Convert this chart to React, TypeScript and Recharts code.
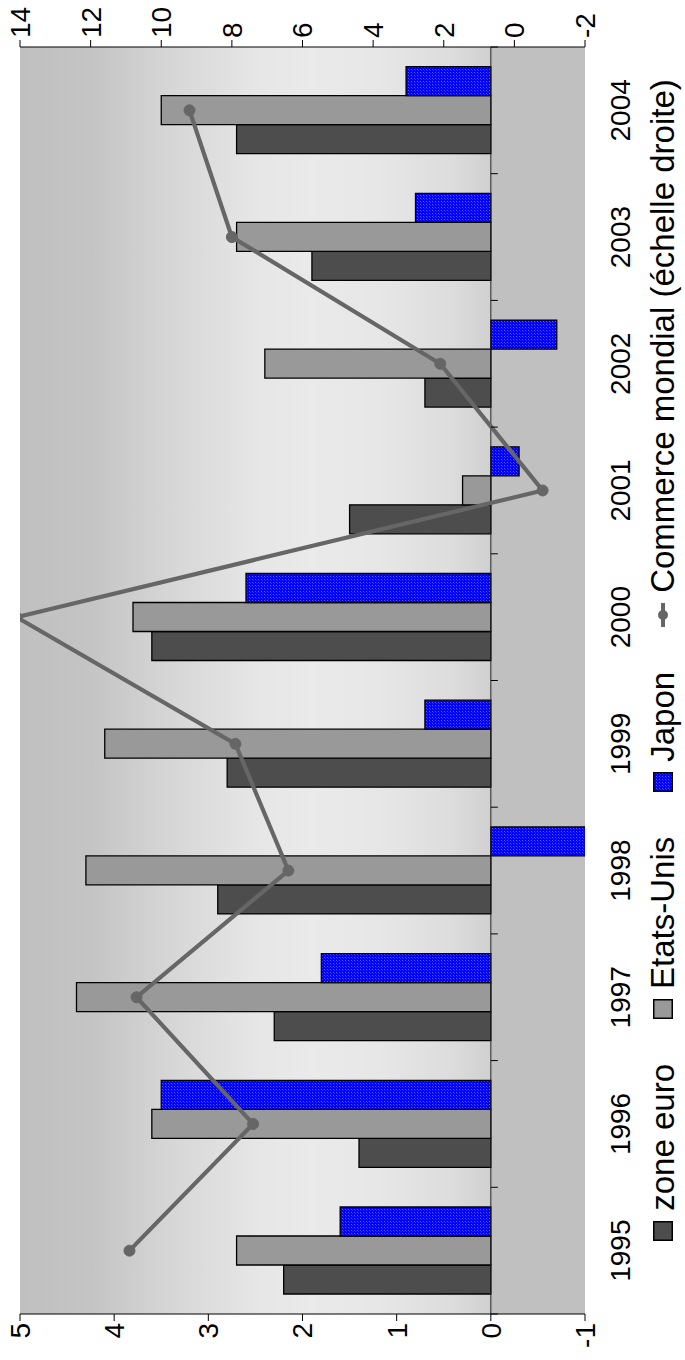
import React from "react";
import { ComposedChart, Bar, Line, XAxis, YAxis, ReferenceArea, ReferenceLine } from "recharts";

// Croissance annuelle (%), barres sur l'échelle gauche, commerce mondial sur l'échelle droite
const years = ["1995", "1996", "1997", "1998", "1999", "2000", "2001", "2002", "2003", "2004"];
const zoneEuro = [2.2, 1.4, 2.3, 2.9, 2.8, 3.6, 1.5, 0.7, 1.9, 2.7];
const etatsUnis = [2.7, 3.6, 4.4, 4.3, 4.1, 3.8, 0.3, 2.4, 2.7, 3.5];
const japon = [1.6, 3.5, 1.8, -1.1, 0.7, 2.6, -0.3, -0.7, 0.8, 0.9];
const commerceMondial = [10.9, 7.4, 10.7, 6.4, 7.9, 14.1, -0.8, 2.1, 8.0, 9.2];

const leftTicks = [-1, 0, 1, 2, 3, 4, 5];
const rightTicks = [-2, 0, 2, 4, 6, 8, 10, 12, 14];

const data = years.map((year, i) => ({
  year,
  zoneEuro: zoneEuro[i],
  etatsUnis: etatsUnis[i],
  japon: japon[i],
  commerce: commerceMondial[i],
}));

const FONT = '"Liberation Sans", Arial, sans-serif';
const TICK_FONT = 28;
const LEGEND_FONT = 33;

// chart is laid out landscape, then turned a quarter turn
const W = 1360;
const H = 685;
const CHART_H = 640;
const MARGIN = { top: 20, right: 0, bottom: 0, left: 0 };
const LEFT_W = 46;
const RIGHT_W = 47;
const X_AXIS_H = 55;
const PLOT_W = W - LEFT_W - RIGHT_W;
const PLOT_H = CHART_H - MARGIN.top - X_AXIS_H;
const BAND = PLOT_W / years.length;
const ZERO_Y = MARGIN.top + PLOT_H * (5 / 6);

const DARK = "#4d4d4d";
const GRAY = "#999999";
const LINE = "#666666";

function YearTick(props: any) {
  const { x, y, payload, index } = props;
  const half = BAND / 2;
  return (
    <g>
      <line x1={x - half} x2={x - half} y1={ZERO_Y} y2={ZERO_Y + 7} stroke="#000" />
      {index === years.length - 1 && (
        <line x1={x + half} x2={x + half} y1={ZERO_Y} y2={ZERO_Y + 7} stroke="#000" />
      )}
      <text x={x} y={y + 35} textAnchor="middle" dominantBaseline="central" fontSize={TICK_FONT} fontFamily={FONT} fill="#000">
        {payload.value}
      </text>
    </g>
  );
}

function DotsSwatch({ id }: { id: string }) {
  return (
    <svg width={20} height={20} style={{ display: "block" }}>
      <defs>
        <pattern id={id} width="3" height="3" patternUnits="userSpaceOnUse">
          <rect width="3" height="3" fill="#0000ff" />
          <rect x="0" y="0" width="1" height="1" fill="#5a5aff" />
          <rect x="2" y="1" width="1" height="1" fill="#2a2aff" />
        </pattern>
      </defs>
      <rect x="0.75" y="0.75" width="18.5" height="18.5" fill={`url(#${id})`} stroke="#000" strokeWidth="1.5" />
    </svg>
  );
}

function Swatch({ color }: { color: string }) {
  return (
    <svg width={20} height={20} style={{ display: "block" }}>
      <rect x="0.75" y="0.75" width="18.5" height="18.5" fill={color} stroke="#000" strokeWidth="1.5" />
    </svg>
  );
}

function LegendRow() {
  const item = { display: "flex", alignItems: "center", gap: 10 } as const;
  return (
    <div
      style={{
        position: "absolute",
        left: 0,
        top: CHART_H,
        width: W,
        height: H - CHART_H,
        display: "flex",
        justifyContent: "center",
        alignItems: "center",
        gap: 45,
        paddingLeft: 40,
        boxSizing: "border-box",
        fontFamily: FONT,
        fontSize: LEGEND_FONT,
        color: "#000",
        whiteSpace: "nowrap",
      }}
    >
      <div style={item}>
        <Swatch color={DARK} />
        <span>zone euro</span>
      </div>
      <div style={item}>
        <Swatch color={GRAY} />
        <span>Etats-Unis</span>
      </div>
      <div style={item}>
        <DotsSwatch id="legendDots" />
        <span>Japon</span>
      </div>
      <div style={item}>
        <svg width={24} height={20} style={{ display: "block" }}>
          <line x1="0" x2="24" y1="10" y2="10" stroke={LINE} strokeWidth="4" />
          <circle cx="12" cy="10" r="5" fill={LINE} />
        </svg>
        <span>Commerce mondial (échelle droite)</span>
      </div>
    </div>
  );
}

export default function App() {
  return (
    <div style={{ position: "absolute", left: 0, top: 0, width: H, height: W, overflow: "hidden", background: "#fff" }}>
      <div
        style={{
          position: "absolute",
          left: 0,
          top: 0,
          width: W,
          height: H,
          transformOrigin: "0 0",
          transform: `translate(0px, ${W}px) rotate(-90deg)`,
        }}
      >
        <ComposedChart
          width={W}
          height={CHART_H}
          data={data}
          margin={MARGIN}
          barCategoryGap={20}
          barGap={0}
        >
          <defs>
            <linearGradient id="plotBg" x1="0" y1="0" x2="0" y2="1">
              <stop offset="0" stopColor="#c0c0c0" />
              <stop offset="0.15" stopColor="#c4c4c4" />
              <stop offset="0.32" stopColor="#d6d6d6" />
              <stop offset="0.5" stopColor="#e6e6e6" />
              <stop offset="0.62" stopColor="#eaeaea" />
              <stop offset="0.78" stopColor="#e6e6e6" />
              <stop offset="0.92" stopColor="#dcdcdc" />
              <stop offset="1" stopColor="#d0d0d0" />
            </linearGradient>
            <pattern id="japonDots" width="3" height="3" patternUnits="userSpaceOnUse">
              <rect width="3" height="3" fill="#0000ff" />
              <rect x="0" y="0" width="1" height="1" fill="#5a5aff" />
              <rect x="2" y="1" width="1" height="1" fill="#2a2aff" />
            </pattern>
          </defs>

          <XAxis
            dataKey="year"
            height={X_AXIS_H}
            axisLine={false}
            tickLine={false}
            tickSize={0}
            tickMargin={0}
            interval={0}
            tick={<YearTick />}
          />
          <YAxis
            yAxisId="left"
            width={LEFT_W}
            domain={[-1, 5]}
            ticks={leftTicks}
            allowDataOverflow
            tickSize={7}
            tickMargin={2}
            axisLine={{ stroke: "#000" }}
            tickLine={{ stroke: "#000" }}
            tick={{ fontSize: TICK_FONT, fontFamily: FONT, fill: "#000" }}
          />
          <YAxis
            yAxisId="right"
            orientation="right"
            width={RIGHT_W}
            domain={[-2, 14]}
            ticks={rightTicks}
            allowDataOverflow
            tickSize={7}
            tickMargin={2}
            axisLine={{ stroke: "#000" }}
            tickLine={{ stroke: "#000" }}
            tick={{ fontSize: TICK_FONT, fontFamily: FONT, fill: "#000" }}
          />

          <ReferenceArea yAxisId="left" y1={0} y2={5} fill="url(#plotBg)" fillOpacity={1} stroke="none" />
          <ReferenceArea yAxisId="left" y1={-1} y2={0} fill="#c0c0c0" fillOpacity={1} stroke="none" />
          <ReferenceLine yAxisId="left" y={0} stroke="#222" strokeWidth={1} />

          <Bar yAxisId="left" dataKey="zoneEuro" name="zone euro" fill={DARK} stroke="#000" strokeWidth={1.3} isAnimationActive={false} />
          <Bar yAxisId="left" dataKey="etatsUnis" name="Etats-Unis" fill={GRAY} stroke="#000" strokeWidth={1.3} isAnimationActive={false} />
          <Bar yAxisId="left" dataKey="japon" name="Japon" fill="url(#japonDots)" stroke="#000" strokeWidth={1.3} isAnimationActive={false} />
          <Line
            yAxisId="right"
            type="linear"
            dataKey="commerce"
            name="Commerce mondial (échelle droite)"
            stroke={LINE}
            strokeWidth={4.2}
            dot={{ r: 5.5, fill: LINE, stroke: LINE, strokeWidth: 1 }}
            isAnimationActive={false}
          />
        </ComposedChart>
        <LegendRow />
      </div>
    </div>
  );
}
